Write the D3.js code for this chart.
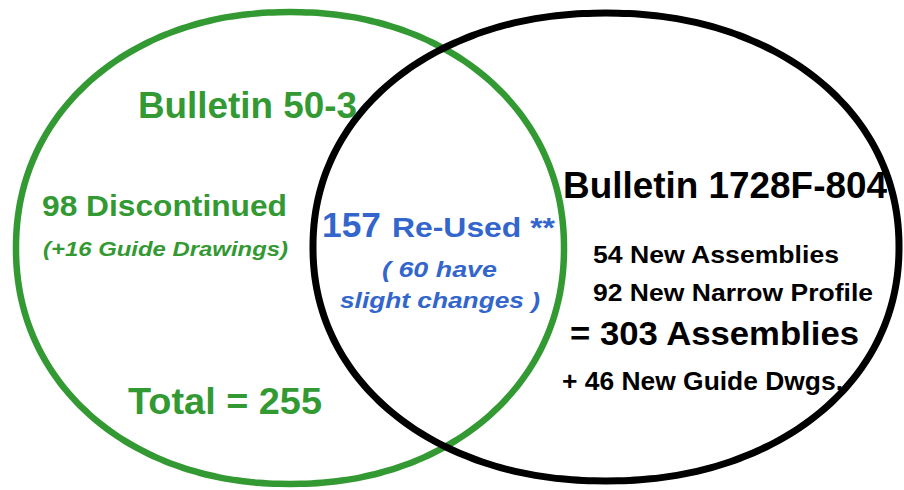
<!DOCTYPE html>
<html>
<head>
<meta charset="utf-8">
<script src="https://cdn.jsdelivr.net/npm/d3@7"></script>
<style>
  html, body { margin: 0; padding: 0; background: #fff; }
  svg { display: block; }
  text { font-family: "Liberation Sans", Arial, Helvetica, sans-serif; font-weight: bold; }
</style>
</head>
<body>
<div id="chart"></div>
<script>
// ---- Data ----
const setNames = ["Bulletin 50-3", "Bulletin 1728F-804"];
const setTotals = [255, 303];
const discontinued = 98;
const discontinuedGuides = 16;
const reused = 157;
const reusedChanged = 60;
const newAssemblies = 54;
const newNarrowProfile = 92;
const newGuideDwgs = 46;

// ---- Layout (positions / styles, not data) ----
const W = 904, H = 490;
const green = "#339933", blue = "#3366cc", black = "#000000";

const svg = d3.select("#chart").append("svg")
  .attr("width", W).attr("height", H);

// Venn space scales (unit coordinates -> pixels)
const x = d3.scaleLinear().domain([0, 1]).range([0, W]);
const y = d3.scaleLinear().domain([0, 1]).range([0, H]);

const shapes = [
  { name: setNames[0], cx: 290 / W, cy: 248 / H, rx: 274 / W, ry: 236 / H, color: green, sw: 6.5 },
  { name: setNames[1], cx: 606 / W, cy: 247 / H, rx: 293 / W, ry: 234 / H, color: black, sw: 7 }
];

// slightly rounded ellipse outline
const N = 2.1;
const angles = d3.range(0, 360, 2).map(a => a * Math.PI / 180);
function outline(d) {
  return angles.map(t => {
    const c = Math.cos(t), s = Math.sin(t);
    return [
      d.cx + d.rx * Math.sign(c) * Math.pow(Math.abs(c), 2 / N),
      d.cy + d.ry * Math.sign(s) * Math.pow(Math.abs(s), 2 / N)
    ];
  });
}
const line = d3.line()
  .x(p => x(p[0]))
  .y(p => y(p[1]))
  .curve(d3.curveCatmullRomClosed);

svg.selectAll("path.set").data(shapes).join("path")
  .attr("class", "set")
  .attr("d", d => line(outline(d)))
  .attr("fill", "none")
  .attr("stroke", d => d.color)
  .attr("stroke-width", d => d.sw);

const labels = [
  { t: setNames[0], x: 138, y: 118, s: 36, w: 219, c: green },
  { t: `${discontinued} Discontinued`, x: 42, y: 216, s: 30, w: 245, c: green },
  { t: `(+${discontinuedGuides} Guide Drawings)`, x: 43, y: 256, s: 20, w: 245, c: green, i: true },
  { t: `Total = ${setTotals[0]}`, x: 128, y: 414, s: 37, w: 194, c: green },
  { t: `${reused}`, x: 322, y: 237, s: 35, w: 59, c: blue },
  { t: "Re-Used **", x: 392, y: 237, s: 28, w: 163, c: blue },
  { t: `( ${reusedChanged} have`, x: 382, y: 277, s: 22, w: 115, c: blue, i: true },
  { t: "slight changes )", x: 340, y: 308, s: 22, w: 200, c: blue, i: true },
  { t: setNames[1], x: 563, y: 198, s: 37, w: 324, c: black },
  { t: `${newAssemblies} New Assemblies`, x: 593, y: 263, s: 24.5, w: 246, c: black },
  { t: `${newNarrowProfile} New Narrow Profile`, x: 593, y: 301, s: 24.5, w: 280, c: black },
  { t: `= ${setTotals[1]} Assemblies`, x: 570, y: 345, s: 32.5, w: 289, c: black },
  { t: `+ ${newGuideDwgs} New Guide Dwgs.`, x: 562, y: 390, s: 25.5, w: 281, c: black }
];

svg.selectAll("text.lbl").data(labels).join("text")
  .attr("class", "lbl")
  .attr("x", d => d.x)
  .attr("y", d => d.y)
  .attr("font-size", d => d.s)
  .attr("font-style", d => d.i ? "italic" : "normal")
  .attr("fill", d => d.c)
  .attr("textLength", d => d.w)
  .attr("lengthAdjust", "spacingAndGlyphs")
  .text(d => d.t);
</script>
</body>
</html>
